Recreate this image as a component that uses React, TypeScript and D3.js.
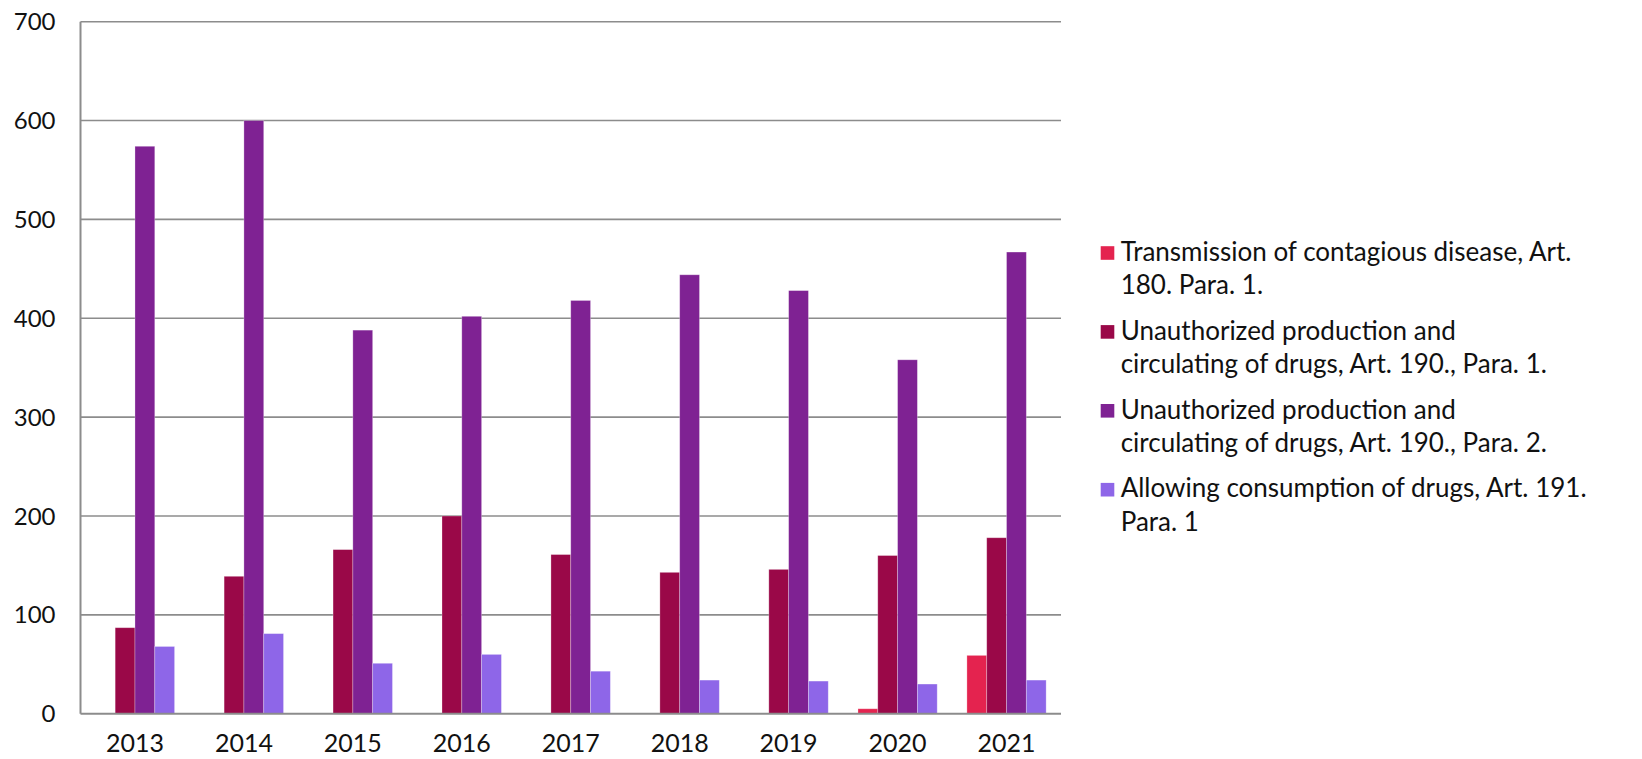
import React from 'react';
import * as d3 from 'd3';

// chart data
const years = ['2013', '2014', '2015', '2016', '2017', '2018', '2019', '2020', '2021'];
const transmission = [0, 0, 0, 0, 0, 0, 0, 5, 59];
const productionPara1 = [87, 139, 166, 200, 161, 143, 146, 160, 178];
const productionPara2 = [574, 600, 388, 402, 418, 444, 428, 358, 467];
const allowingConsumption = [68, 81, 51, 60, 43, 34, 33, 30, 34];
const yTicks = [0, 100, 200, 300, 400, 500, 600, 700];

const seriesNames = [
  ['Transmission of contagious disease, Art.', '180. Para. 1.'],
  ['Unauthorized production and', 'circulating of drugs, Art. 190., Para. 1.'],
  ['Unauthorized production and', 'circulating of drugs, Art. 190., Para. 2.'],
  ['Allowing consumption of drugs, Art. 191.', 'Para. 1'],
];
const colors = ['#E4234F', '#9A0848', '#7F2293', '#8E66E8'];

const W = 1642;
const H = 759;
const FONT = 'Lato, "Noto Sans", sans-serif';

export default function App() {
  const series = [transmission, productionPara1, productionPara2, allowingConsumption];
  const margin = { left: 80.5, right: 581, top: 21.7, bottom: 45.3 };
  const plotW = W - margin.left - margin.right;
  const plotH = H - margin.top - margin.bottom;

  const x0 = d3.scaleBand().domain(years).range([0, plotW]).padding(0);
  // excel style gap width 150%
  const barW = x0.bandwidth() / 5.5;
  const x1 = d3
    .scaleBand()
    .domain(series.map((_, i) => String(i)))
    .range([barW * 0.75, barW * 4.75]);
  const y = d3.scaleLinear().domain([0, 700]).range([plotH, 0]);

  return (
    <div style={{ position: 'fixed', left: 0, top: 0, background: '#fff' }}>
      <svg width={W} height={H} style={{ display: 'block', fontFamily: FONT }}>
        <g transform={`translate(${margin.left},${margin.top})`}>
          {yTicks.map((t) => (
            <g key={t}>
              {t > 0 && (
                <line x1={0} x2={plotW} y1={y(t)} y2={y(t)} stroke="#8c8c8c" strokeWidth={1.6} />
              )}
              <text
                x={-25}
                y={y(t)}
                dy="0.36em"
                textAnchor="end"
                fontSize={24}
                fill="#111"
              >
                {t}
              </text>
            </g>
          ))}

          {years.map((yr, i) => (
            <g key={yr} transform={`translate(${x0(yr)},0)`}>
              {series.map((s, j) =>
                s[i] > 0 ? (
                  <rect
                    key={j}
                    x={x1(String(j))}
                    y={y(s[i])}
                    width={x1.bandwidth()}
                    height={plotH - y(s[i])}
                    fill={colors[j]}
                    stroke="#ffffff"
                    strokeOpacity={0.35}
                    strokeWidth={0.8}
                  />
                ) : null
              )}
              <text
                x={x0.bandwidth() / 2}
                y={plotH + 38.5}
                textAnchor="middle"
                fontSize={25}
                fill="#111"
              >
                {yr}
              </text>
            </g>
          ))}

          <line x1={0} x2={0} y1={0} y2={plotH} stroke="#8c8c8c" strokeWidth={2} />
          <line x1={0} x2={plotW} y1={plotH} y2={plotH} stroke="#8c8c8c" strokeWidth={2} />
        </g>

        <g transform="translate(1100,0)">
          {seriesNames.map((lines, i) => (
            <g key={i} transform={`translate(0,${260.7 + i * 78.9})`}>
              <rect x={0.7} y={-14.5} width={13.6} height={13.6} fill={colors[i]} />
              {lines.map((ln, k) => (
                <text key={k} x={20.7} y={k * 33.3} fontSize={26} fill="#111">
                  {ln}
                </text>
              ))}
            </g>
          ))}
        </g>
      </svg>
    </div>
  );
}
